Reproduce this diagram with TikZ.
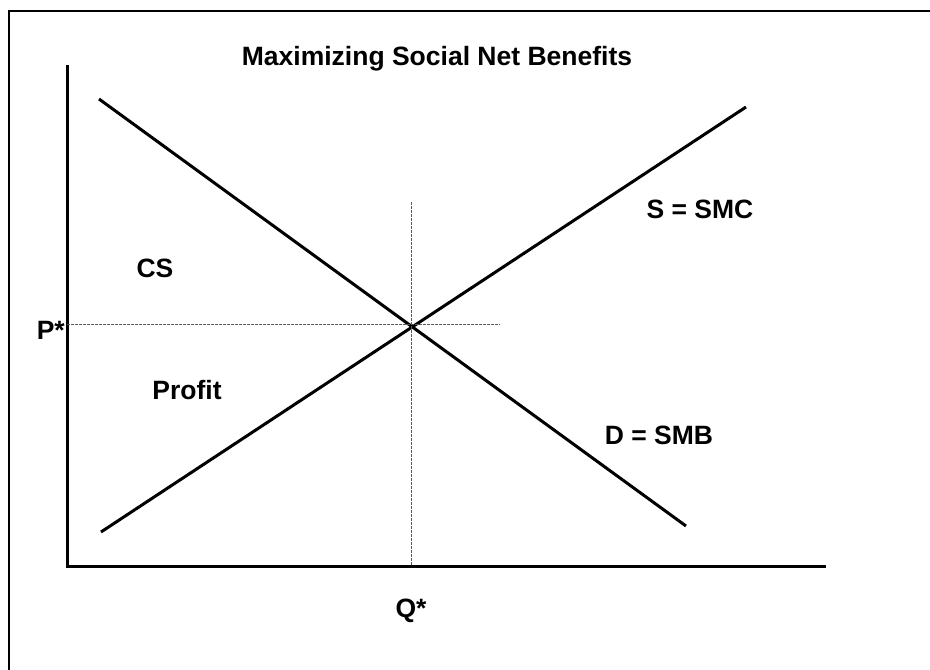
\documentclass[tikz,border=0pt]{standalone}
\usepackage{fontspec}
\setmainfont{Liberation Sans}
\begin{document}
\begin{tikzpicture}[x=1pt,y=-1pt,
  curve/.style={line width=3pt},
  axis/.style={line width=3pt},
  guide/.style={line width=0.9pt,gray!70!black,dash pattern=on 2.5pt off 1.5pt},
  lbl/.style={font=\fontsize{26.5}{30}\selectfont\bfseries,inner sep=0pt}]
\useasboundingbox (0,0) rectangle (930,670);
\fill[white] (0,0) rectangle (930,670);
% frame (right and bottom edges lie outside the picture)
\draw[line width=1.8pt] (9,680) -- (9,11) -- (940,11);
% axes
\coordinate (top) at (67,65);
\coordinate (origin) at (67,566);
\coordinate (xend) at (826,566);
\draw[axis] (top) -- (origin) -- (xend);
% curves
\coordinate (d1) at (99,99);
\coordinate (d2) at (686,526);
\coordinate (s1) at (101,532);
\coordinate (s2) at (746,107);
\draw[curve] (d1) -- (d2);
\draw[curve] (s1) -- (s2);
% guides
\coordinate (pleft) at (67,324);
\coordinate (pright) at (500,324);
\coordinate (qtop) at (411,202);
\coordinate (qbot) at (411,566);
\draw[guide] (pleft) -- (pright);
\draw[guide] (qtop) -- (qbot);
% labels
\node[lbl] (title) at (437,59) {Maximizing Social Net Benefits};
\node[lbl] (smc) at (700,209) {S = SMC};
\node[lbl] (cs) at (155,268) {CS};
\node[lbl,anchor=east] (pstar) at (65,330) {P*};
\node[lbl] (profit) at (187,390) {Profit};
\node[lbl] (smb) at (659,435) {D = SMB};
\node[lbl] (qstar) at (411,611) {Q*};
\end{tikzpicture}
\end{document}
